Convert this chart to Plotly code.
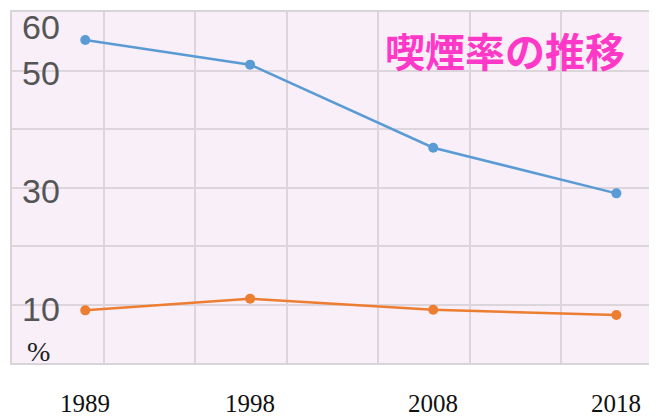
import plotly.graph_objects as go

years = [1989, 1998, 2008, 2018]
male = [55.2, 51.0, 36.8, 29.0]
female = [9.0, 11.0, 9.1, 8.2]
year_labels = ["1989", "1998", "2008", "2018"]
y_label_vals = [60, 50, 30, 10]
y_label_shift = [-15, -2, -3, -4]
title_text = "喫煙率の推移"

fig = go.Figure()
fig.add_trace(go.Scatter(x=years, y=male, mode="lines+markers",
                         line=dict(color="#5b9bd5", width=2.5),
                         marker=dict(color="#5b9bd5", size=10)))
fig.add_trace(go.Scatter(x=years, y=female, mode="lines+markers",
                         line=dict(color="#ed7d31", width=2.5),
                         marker=dict(color="#ed7d31", size=10)))

ann = []
for v, s in zip(y_label_vals, y_label_shift):
    ann.append(dict(x=0, xref="paper", xanchor="left", xshift=8,
                    y=v, yref="y", yanchor="middle", yshift=s,
                    text=str(v), showarrow=False,
                    font=dict(family="Liberation Sans Narrow, Liberation Sans, Arial", size=34, color="#555555")))
ann.append(dict(x=0, xref="paper", xanchor="left", xshift=13,
                y=0, yref="y", yanchor="bottom", yshift=-6,
                text="%", showarrow=False,
                font=dict(family="Liberation Serif, serif", size=28, color="#222222")))
for yr, lab in zip(years, year_labels):
    ann.append(dict(x=yr, xref="x", xanchor="center",
                    y=0, yref="paper", yanchor="top", yshift=-25,
                    text=lab, showarrow=False,
                    font=dict(family="Liberation Serif, serif", size=25, color="#111111")))
ann.append(dict(x=(505 - 12) / 641, xref="paper", xanchor="center",
                y=(363 - 48) / 353, yref="paper", yanchor="middle",
                showarrow=False, text=f"<b>{title_text}</b>",
                font=dict(family="Noto Sans CJK JP", size=40, color="#ff38c8")))

# page body has an 8px margin; figure occupies (8,8)-(657,418)
fig.update_layout(
    width=649, height=410,
    margin=dict(l=4, r=4, t=2, b=55),
    paper_bgcolor="white",
    plot_bgcolor="#f8eff8",
    showlegend=False,
    annotations=ann,
    xaxis=dict(range=[1985, 2020], tick0=1985, dtick=5, showticklabels=False,
               showgrid=True, gridcolor="#dcd6dc", gridwidth=1.5, zeroline=False,
               showline=True, mirror=True, linecolor="#d8d4d8", linewidth=1.5, ticks=""),
    yaxis=dict(range=[0, 60], dtick=10, showticklabels=False,
               showgrid=True, gridcolor="#dcd6dc", gridwidth=1.5, zeroline=False,
               showline=True, mirror=True, linecolor="#d8d4d8", linewidth=1.5, ticks=""),
)

fig.write_html("out.html")
